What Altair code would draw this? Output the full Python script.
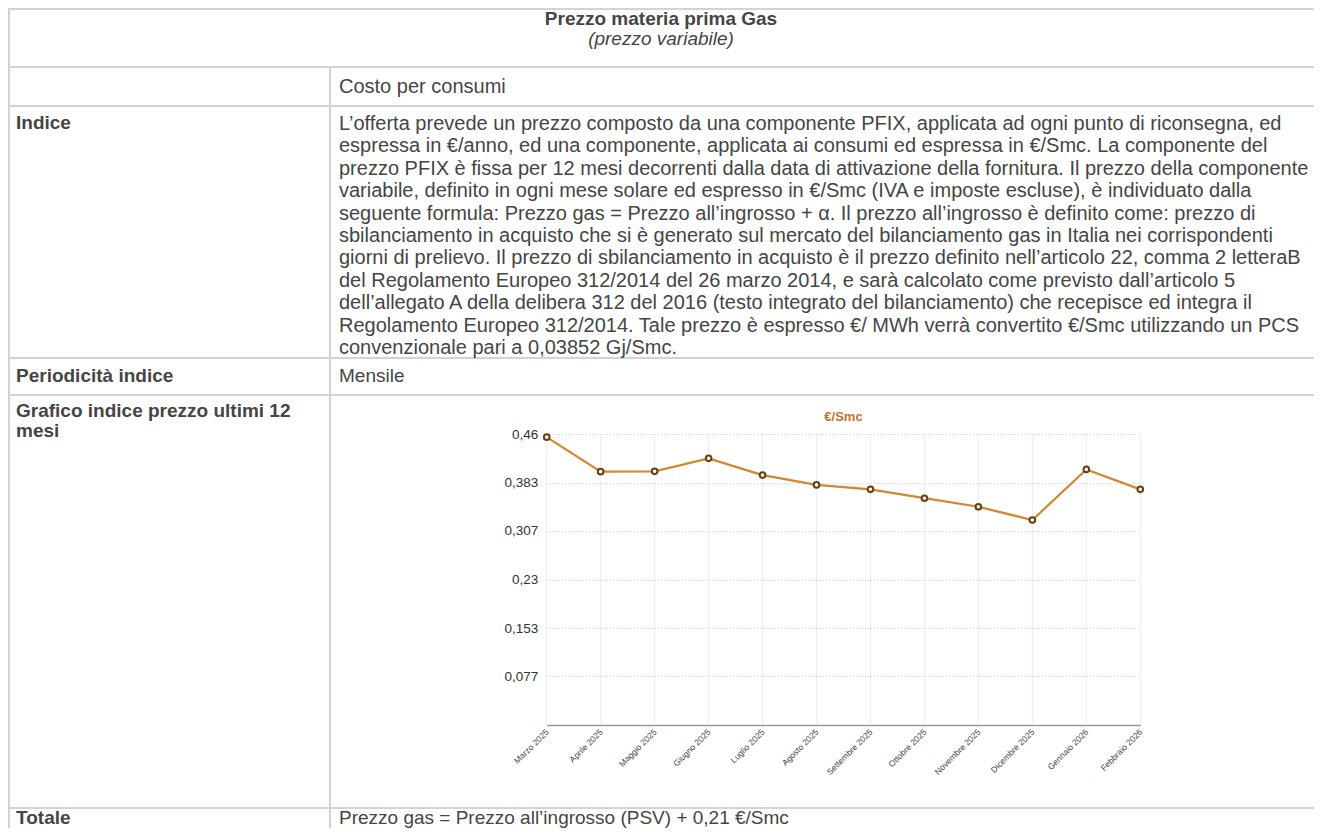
import altair as alt
import pandas as pd

# ---------------- data ----------------
title_text = "Prezzo materia prima Gas"
subtitle_text = "(prezzo variabile)"
costo_text = "Costo per consumi"
label_indice = "Indice"
label_periodicita = "Periodicità indice"
label_grafico = "Grafico indice prezzo ultimi 12\nmesi"
label_totale = "Totale"
indice_lines = [
    "L’offerta prevede un prezzo composto da una componente PFIX, applicata ad ogni punto di riconsegna, ed",
    "espressa in €/anno, ed una componente, applicata ai consumi ed espressa in €/Smc. La componente del",
    "prezzo PFIX è fissa per 12 mesi decorrenti dalla data di attivazione della fornitura. Il prezzo della componente",
    "variabile, definito in ogni mese solare ed espresso in €/Smc (IVA e imposte escluse), è individuato dalla",
    "seguente formula: Prezzo gas = Prezzo all’ingrosso + α. Il prezzo all’ingrosso è definito come: prezzo di",
    "sbilanciamento in acquisto che si è generato sul mercato del bilanciamento gas in Italia nei corrispondenti",
    "giorni di prelievo. Il prezzo di sbilanciamento in acquisto è il prezzo definito nell’articolo 22, comma 2 letteraB",
    "del Regolamento Europeo 312/2014 del 26 marzo 2014, e sarà calcolato come previsto dall’articolo 5",
    "dell’allegato A della delibera 312 del 2016 (testo integrato del bilanciamento) che recepisce ed integra il",
    "Regolamento Europeo 312/2014. Tale prezzo è espresso €/ MWh verrà convertito €/Smc utilizzando un PCS",
    "convenzionale pari a 0,03852 Gj/Smc.",
]
periodicita_text = "Mensile"
totale_text = "Prezzo gas = Prezzo all’ingrosso (PSV) + 0,21 €/Smc"
chart_title = "€/Smc"

months = ["Marzo 2025", "Aprile 2025", "Maggio 2025", "Giugno 2025", "Luglio 2025",
          "Agosto 2025", "Settembre 2025", "Ottobre 2025", "Novembre 2025",
          "Dicembre 2025", "Gennaio 2026", "Febbraio 2026"]
prices = [0.455, 0.4005, 0.401, 0.4215, 0.395, 0.3795, 0.3725, 0.3585, 0.345,
          0.324, 0.404, 0.3725]
y_ticks = [0, 0.0767, 0.1533, 0.23, 0.3067, 0.3833, 0.46]

# ---------------- layout / style ----------------
W, H = 1306, 820
FONT = "Liberation Sans"
FS = 19
FS_PARA = 20
LH = 22.4
TXT = "#454545"
BORDER = "#d3d3d3"
X0, X1 = 538.7, 1132.3   # plot left/right
Y0, Y1 = 717, 426        # y of 0 and of 0.46

# category position of each month (0 .. n-1) on the x axis
df = pd.DataFrame({"month": months, "price": prices, "pos": list(range(len(months)))})
month_lookup = "[" + ",".join("'" + m + "'" for m in months) + "]"


def text_layer(s, x, y, **kw):
    props = dict(align="left", baseline="middle", font=FONT, fontSize=FS,
                 color=TXT, lineBreak="\n", lineHeight=LH)
    props.update(kw)
    return alt.Chart(pd.DataFrame({"t": [s]})).mark_text(**props).encode(
        x=alt.value(x), y=alt.value(y), text="t:N")


def hrule(y, x1=0, x2=W):
    return alt.Chart(pd.DataFrame({"a": [0]})).mark_rule(
        color=BORDER, strokeWidth=2).encode(
        x=alt.value(x1), x2=alt.value(x2), y=alt.value(y))


def vrule(x, y1, y2):
    return alt.Chart(pd.DataFrame({"a": [0]})).mark_rule(
        color=BORDER, strokeWidth=2).encode(
        x=alt.value(x), y=alt.value(y1), y2=alt.value(y2))


borders = [hrule(y) for y in [1, 59, 98, 350, 387, 800]]
borders += [vrule(1, 0, H), vrule(322, 59, H)]

texts = [
    text_layer(title_text, 653, 11, align="center", fontWeight="bold"),
    text_layer(subtitle_text, 653, 31, align="center", fontStyle="italic"),
    text_layer(costo_text, 331, 79, fontSize=FS_PARA),
    text_layer(label_indice, 8, 115, fontWeight="bold"),
    text_layer("\n".join(indice_lines), 331, 122, baseline="alphabetic",
               fontSize=FS_PARA),
    text_layer(label_periodicita, 8, 368, fontWeight="bold"),
    text_layer(periodicita_text, 331, 368),
    text_layer(label_grafico, 8, 409, baseline="alphabetic",
               fontWeight="bold", lineHeight=19.5),
    text_layer(label_totale, 8, 810, fontWeight="bold"),
    text_layer(totale_text, 331, 810),
]

x_scale = alt.Scale(domain=[0, len(months) - 1], range=[X0, X1], nice=False, zero=False)
x_enc = alt.X("pos:Q", scale=x_scale,
              axis=alt.Axis(orient="bottom", offset=-(H - Y0), title=None,
                            values=list(range(len(months))),
                            labelExpr=month_lookup + "[datum.value]",
                            labelAngle=-45, labelAlign="right",
                            labelBaseline="middle", labelFontSize=8.5,
                            labelFont=FONT, labelColor="#444",
                            labelPadding=5, ticks=False, grid=False,
                            domainColor="#9a9a9a", domainWidth=1.5,
                            labelOverlap=False, labelFlush=False,
                            labelBound=False))
y_enc = alt.Y("price:Q",
              scale=alt.Scale(domain=[0, 0.46], range=[Y0, Y1], nice=False),
              axis=alt.Axis(orient="left", offset=-X0, title=None,
                            values=y_ticks, domain=False, ticks=False,
                            labelExpr="datum.value == 0 ? '' : replace(format(datum.value, '.3~f'), '.', ',')",
                            labelFontSize=13.5, labelFont=FONT, labelColor="#333",
                            labelPadding=9, grid=True, gridDash=[1, 2],
                            gridColor="#cdcdcd", gridWidth=1))

vgrid = alt.Chart(df).mark_rule(color="#ededed", strokeWidth=1).encode(
    x=alt.X("pos:Q", scale=x_scale), y=alt.datum(0.46), y2=alt.datum(0))

line = alt.Chart(df).mark_line(color="#d4862f", strokeWidth=2.2).encode(
    x=x_enc, y=y_enc)
points = alt.Chart(df).mark_point(shape="circle", filled=True, fill="white",
                                  stroke="#6b3c10", strokeWidth=2, size=32,
                                  opacity=1).encode(
    x=alt.X("pos:Q", scale=x_scale), y="price:Q")

ctitle = text_layer(chart_title, (X0 + X1) / 2, 409, align="center",
                    fontWeight="bold", fontSize=13, color="#c0722d")

chart = alt.layer(*borders, vgrid, line, points, ctitle,
                  *texts).properties(
    width=W, height=H, padding=0,
    autosize=alt.AutoSizeParams(type="none"),
    background="#ffffff",
).configure_view(stroke=None)

chart.save("out.html", embed_options={"renderer": "svg", "actions": False})
